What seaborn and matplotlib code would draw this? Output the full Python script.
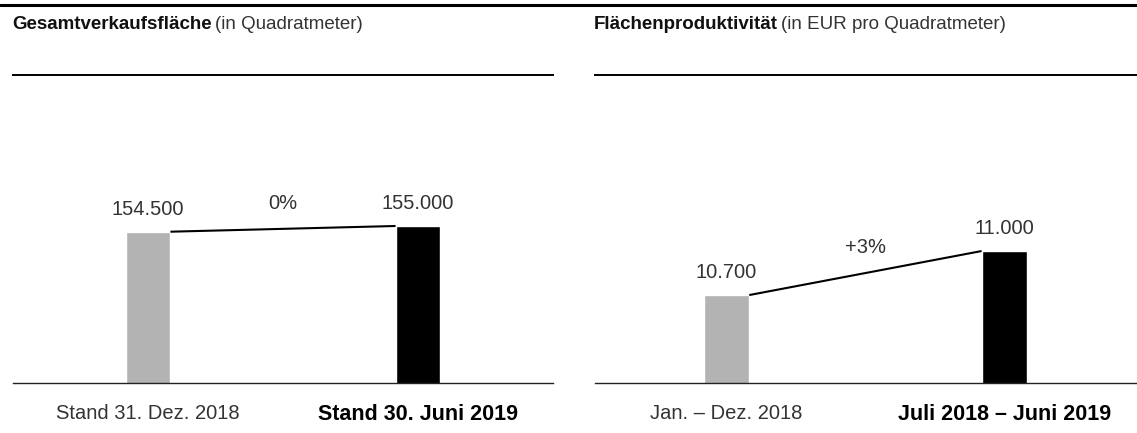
import matplotlib
matplotlib.use("Agg")
import matplotlib.pyplot as plt
from matplotlib.lines import Line2D
import seaborn as sns

# Gesamtverkaufsfläche (in Quadratmeter)
flaeche_labels = ["Stand 31. Dez. 2018", "Stand 30. Juni 2019"]
flaeche_werte = [154500, 155000]
flaeche_veraenderung = "0%"

# Flächenproduktivität (in EUR pro Quadratmeter)
produkt_labels = ["Jan. – Dez. 2018", "Juli 2018 – Juni 2019"]
produkt_werte = [10700, 11000]
produkt_veraenderung = "+3%"

farben = ["#b3b3b3", "#000000"]

sns.set_style("white")
plt.rcParams["font.family"] = ["Liberation Sans", "DejaVu Sans"]

fig = plt.figure(figsize=(11.37, 4.33), dpi=100)
ax1 = fig.add_axes([0.01143, 0.11432, 0.47493, 0.71247])
ax2 = fig.add_axes([0.52331, 0.11432, 0.47669, 0.71247])


def tausender(v):
    return f"{v:,}".replace(",", ".")


def panel(ax, labels, werte, veraenderung, bw, xlim, ylim):
    sns.barplot(x=labels, y=werte, hue=labels, palette=farben, width=bw,
                saturation=1, legend=False, ax=ax)
    # Verbindungslinie zwischen den Balken
    ax.plot([bw / 2, 1 - bw / 2], werte, color="black", lw=1.5,
            solid_capstyle="butt")
    for i, v in enumerate(werte):
        ax.annotate(tausender(v), (i, v), xytext=(0, 12), textcoords="offset points",
                    ha="center", va="baseline", fontsize=14.5, color="#333333")
    ax.annotate(veraenderung, (0.5, sum(werte) / 2), xytext=(0, 14.5),
                textcoords="offset points", ha="center", va="baseline",
                fontsize=14.5, color="#333333")
    ax.set_xlim(*xlim)
    ax.set_ylim(*ylim)
    ax.set_xlabel("")
    ax.set_ylabel("")
    ax.set_yticks([])
    ax.tick_params(axis="x", length=0, pad=15, labelsize=14.5)
    tl = ax.get_xticklabels()
    tl[0].set_color("#333333")
    tl[1].set_fontweight("bold")
    tl[1].set_fontsize(15.5)
    tl[1].set_color("black")
    ax.spines["left"].set_visible(False)
    ax.spines["right"].set_visible(False)
    ax.spines["top"].set_linewidth(1.4)
    ax.spines["top"].set_color("black")
    ax.spines["bottom"].set_linewidth(1.0)
    ax.spines["bottom"].set_color("#222222")


panel(ax1, flaeche_labels, flaeche_werte, flaeche_veraenderung, 0.166,
      (-0.5, 1.5), (141184, 168245))
panel(ax2, produkt_labels, produkt_werte, produkt_veraenderung, 0.164,
      (-0.473, 1.477), (10097, 12200))

# dicke Linie ganz oben
fig.add_artist(Line2D([0, 1], [0.9885, 0.9885], transform=fig.transFigure,
                      lw=2.2, color="black"))

# Titel: fett + normal
renderer = fig.canvas.get_renderer()
W = fig.get_figwidth() * fig.dpi
for x0, fett, normal in [(0.0106, "Gesamtverkaufsfläche", "(in Quadratmeter)"),
                         (0.5224, "Flächenproduktivität", "(in EUR pro Quadratmeter)")]:
    t = fig.text(x0, 0.933, fett, fontweight="bold", fontsize=13.5,
                 va="baseline", color="#111111")
    bb = t.get_window_extent(renderer)
    fig.text(bb.x1 / W + 0.003, 0.933, normal, fontsize=13.5,
             va="baseline", color="#333333")

fig.savefig("out.png", dpi=100)
